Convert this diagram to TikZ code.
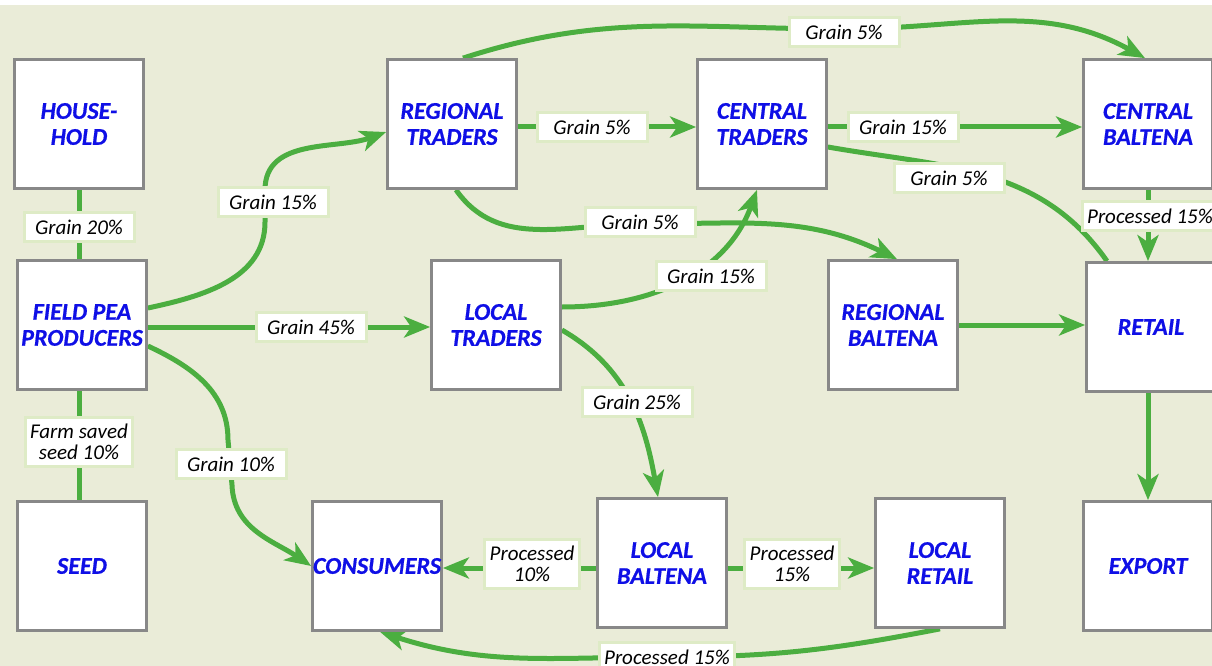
\documentclass[tikz,border=0pt]{standalone}
\usepackage{fontspec}
\setmainfont{Carlito}
\newfontfamily\actorfont{Carlito}[FakeBold=0.6]
\usetikzlibrary{arrows.meta}
\definecolor{bgc}{RGB}{234,236,216}
\definecolor{flow}{RGB}{75,174,64}
\definecolor{boxline}{RGB}{136,136,136}
\definecolor{tagline}{RGB}{222,235,198}
\definecolor{actor}{RGB}{15,15,230}
\pgfdeclarelayer{bg}
\pgfdeclarelayer{edges}
\pgfsetlayers{bg,edges,main}
\begin{document}
\begin{tikzpicture}[x=1pt,y=1pt,
  actorbox/.style={draw=boxline, line width=2.75pt, fill=white,
    minimum width=129pt, minimum height=129pt, inner sep=0pt, align=center,
    text=actor, font=\actorfont\fontsize{24}{26}\selectfont\bfseries\itshape,
    execute at begin node={\vspace*{5pt}}},
  tag/.style={draw=tagline, line width=3pt, fill=white, inner xsep=5pt,
    inner ysep=7pt, align=center, text=black,
    font=\fontsize{21}{21}\selectfont\itshape},
  graintag/.style={tag, minimum width=110pt},
  flowline/.style={draw=flow, line width=5pt},
  flowarrow/.style={flowline, -{Stealth[length=26pt,width=21pt,inset=7pt]}}
]
\useasboundingbox (0,0) rectangle (1212,-666);
\begin{pgfonlayer}{bg}
  \fill[white] (0,0) rectangle (1212,-666);
  \fill[bgc] (0,-5) rectangle (1212,-666);
\end{pgfonlayer}

% actors
\node[actorbox] (hh)   at (79,-124)   {HOUSE-\\HOLD};
\node[actorbox] (fpp)  at (82,-325)   {FIELD PEA\\PRODUCERS};
\node[actorbox] (seed) at (82,-566)   {SEED};
\node[actorbox] (rt)   at (452,-124)  {REGIONAL\\TRADERS};
\node[actorbox] (ct)   at (762,-124)  {CENTRAL\\TRADERS};
\node[actorbox] (cb)   at (1148,-124) {CENTRAL\\BALTENA};
\node[actorbox] (lt)   at (496,-325)  {LOCAL\\TRADERS};
\node[actorbox] (rb)   at (893,-325)  {REGIONAL\\BALTENA};
\node[actorbox] (ret)  at (1151,-327) {RETAIL};
\node[actorbox] (cons) at (377,-566)  {CONSUMERS};
\node[actorbox] (lb)   at (662,-563)  {LOCAL\\BALTENA};
\node[actorbox] (lr)   at (940,-563)  {LOCAL\\RETAIL};
\node[actorbox] (exp)  at (1148,-566) {EXPORT};

% via points of the curved flows
\coordinate (v1a) at (265,-222);
\coordinate (v1b) at (265,-190);
\coordinate (v2a) at (228,-440);
\coordinate (v2b) at (232,-485);
\coordinate (v3)  at (844,-29);
\coordinate (v4)  at (640,-224);
\coordinate (v5)  at (667,-657);

\begin{pgfonlayer}{edges}
  % straight flows
  \draw[flowline] (hh.south) -- (hh.south |- fpp.north);
  \draw[flowline] (hh.south |- fpp.south) -- (hh.south |- seed.north);
  \draw[flowarrow] ([yshift=-2pt]fpp.east) -- ([yshift=-2pt]lt.west);
  \draw[flowarrow] ([yshift=-3pt]rt.east) -- ([yshift=-3pt]ct.west);
  \draw[flowarrow] ([yshift=-3pt]ct.east) -- ([yshift=-3pt]ct.east -| cb.west);
  \draw[flowarrow] (cb.south) -- (cb.south |- ret.north);
  \draw[flowarrow] (rb.east) -- (rb.east -| ret.west);
  \draw[flowarrow] (exp.north |- ret.south) -- (exp.north);
  \draw[flowarrow] ([yshift=-5pt]lb.west) -- ([yshift=-5pt]lb.west -| cons.east);
  \draw[flowarrow] ([yshift=-5pt]lb.east) -- ([yshift=-5pt]lb.east -| lr.west);
  % curved flows
  \draw[flowarrow] ([yshift=17pt]fpp.east) to[out=12,in=-90] (v1a) -- (v1b)
        to[out=90,in=200] ([yshift=-8pt]rt.west);
  \draw[flowarrow] ([yshift=-21pt]fpp.east) to[out=-25,in=90] (v2a) -- (v2b)
        to[out=-88,in=146] (cons.west);
  \draw[flowarrow] ([xshift=11pt]rt.north) to[out=18,in=180] (v3)
        to[out=0,in=151] ([xshift=-3pt]cb.north);
  \draw[flowarrow] ([xshift=4pt]rt.south) to[out=-55,in=180] (v4)
        to[out=0,in=154] ([xshift=4pt]rb.north);
  \draw[flowarrow] ([yshift=18pt]lt.east) to[out=0,in=-110] ([xshift=-5pt]ct.south);
  \draw[flowarrow] ([yshift=-5pt]lt.east) to[out=-30,in=100] ([xshift=-4pt]lb.north);
  \draw[flowline]  ([yshift=-23pt]ct.east) to[out=-10,in=125] ([xshift=-44pt]ret.north);
  \draw[flowarrow] (lr.south) to[out=191,in=0] (v5)
        to[out=180,in=-18] ([xshift=3pt]cons.south);
\end{pgfonlayer}

% flow labels
\node[graintag] (t1)  at (79,-227)   {Grain 20\%};
\node[tag]      (t2)  at (79,-442)   {Farm saved\\seed 10\%};
\node[graintag] (t3)  at (273,-202)  {Grain 15\%};
\node[graintag] (t4)  at (311,-327)  {Grain 45\%};
\node[graintag] (t5)  at (231,-464)  {Grain 10\%};
\node[graintag] (t6)  at (592,-127)  {Grain 5\%};
\node[graintag] (t7)  at (844,-32)   {Grain 5\%};
\node[graintag] (t8)  at (640,-222)  {Grain 5\%};
\node[graintag] (t9)  at (711,-276)  {Grain 15\%};
\node[graintag] (t10) at (637,-402)  {Grain 25\%};
\node[graintag] (t11) at (903,-127)  {Grain 15\%};
\node[graintag] (t12) at (949,-178)  {Grain 5\%};
\node[tag]      (t13) at (1150,-216) {Processed 15\%};
\node[tag]      (t14) at (532,-564)  {Processed\\10\%};
\node[tag]      (t15) at (792,-564)  {Processed\\15\%};
\node[tag]      (t16) at (667,-657)  {Processed 15\%};
\end{tikzpicture}
\end{document}
